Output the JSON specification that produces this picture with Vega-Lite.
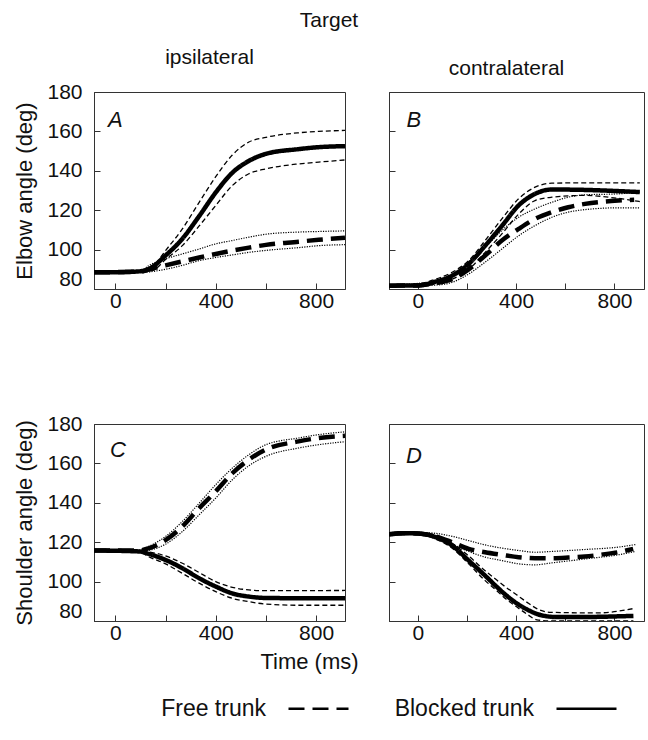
{
  "$schema": "https://vega.github.io/schema/vega-lite/v6.json",
  "padding": {"left": 13, "top": 9, "right": 2, "bottom": 5},
  "background": "white",
  "title": {"text": "Target", "fontSize": 21, "fontWeight": "normal", "anchor": "middle", "offset": 16, "color": "#111"},
  "datasets": {
    "curves": [
      {"p":"A","c":"Blocked trunk","b":"mean","t":-85,"v":88.5},{"p":"A","c":"Blocked trunk","b":"mean","t":0,"v":88.5},{"p":"A","c":"Blocked trunk","b":"mean","t":100,"v":89},{"p":"A","c":"Blocked trunk","b":"mean","t":135,"v":90.2},{"p":"A","c":"Blocked trunk","b":"mean","t":200,"v":97},{"p":"A","c":"Blocked trunk","b":"mean","t":267,"v":105.5},{"p":"A","c":"Blocked trunk","b":"mean","t":334,"v":117},{"p":"A","c":"Blocked trunk","b":"mean","t":400,"v":129},{"p":"A","c":"Blocked trunk","b":"mean","t":466,"v":139},{"p":"A","c":"Blocked trunk","b":"mean","t":532,"v":145},{"p":"A","c":"Blocked trunk","b":"mean","t":600,"v":148.6},{"p":"A","c":"Blocked trunk","b":"mean","t":730,"v":151},{"p":"A","c":"Blocked trunk","b":"mean","t":810,"v":152},{"p":"A","c":"Blocked trunk","b":"mean","t":915,"v":152.5},
      {"p":"A","c":"Blocked trunk","b":"upper","t":-85,"v":88.6},{"p":"A","c":"Blocked trunk","b":"upper","t":100,"v":89.2},{"p":"A","c":"Blocked trunk","b":"upper","t":150,"v":91.5},{"p":"A","c":"Blocked trunk","b":"upper","t":200,"v":99.5},{"p":"A","c":"Blocked trunk","b":"upper","t":267,"v":110.5},{"p":"A","c":"Blocked trunk","b":"upper","t":334,"v":124},{"p":"A","c":"Blocked trunk","b":"upper","t":400,"v":137},{"p":"A","c":"Blocked trunk","b":"upper","t":466,"v":148},{"p":"A","c":"Blocked trunk","b":"upper","t":532,"v":154.6},{"p":"A","c":"Blocked trunk","b":"upper","t":600,"v":157},{"p":"A","c":"Blocked trunk","b":"upper","t":730,"v":159.3},{"p":"A","c":"Blocked trunk","b":"upper","t":810,"v":160},{"p":"A","c":"Blocked trunk","b":"upper","t":915,"v":160.5},
      {"p":"A","c":"Blocked trunk","b":"lower","t":-85,"v":88.4},{"p":"A","c":"Blocked trunk","b":"lower","t":100,"v":88.7},{"p":"A","c":"Blocked trunk","b":"lower","t":150,"v":89.5},{"p":"A","c":"Blocked trunk","b":"lower","t":200,"v":95},{"p":"A","c":"Blocked trunk","b":"lower","t":267,"v":102},{"p":"A","c":"Blocked trunk","b":"lower","t":334,"v":112},{"p":"A","c":"Blocked trunk","b":"lower","t":400,"v":122.4},{"p":"A","c":"Blocked trunk","b":"lower","t":466,"v":132.5},{"p":"A","c":"Blocked trunk","b":"lower","t":532,"v":138.5},{"p":"A","c":"Blocked trunk","b":"lower","t":600,"v":141},{"p":"A","c":"Blocked trunk","b":"lower","t":730,"v":143.5},{"p":"A","c":"Blocked trunk","b":"lower","t":810,"v":144.4},{"p":"A","c":"Blocked trunk","b":"lower","t":915,"v":145.5},
      {"p":"A","c":"Free trunk","b":"mean","t":-85,"v":88.5},{"p":"A","c":"Free trunk","b":"mean","t":100,"v":88.8},{"p":"A","c":"Free trunk","b":"mean","t":135,"v":90},{"p":"A","c":"Free trunk","b":"mean","t":200,"v":92},{"p":"A","c":"Free trunk","b":"mean","t":267,"v":94},{"p":"A","c":"Free trunk","b":"mean","t":334,"v":96},{"p":"A","c":"Free trunk","b":"mean","t":400,"v":97.8},{"p":"A","c":"Free trunk","b":"mean","t":466,"v":99.5},{"p":"A","c":"Free trunk","b":"mean","t":532,"v":101},{"p":"A","c":"Free trunk","b":"mean","t":600,"v":102.4},{"p":"A","c":"Free trunk","b":"mean","t":730,"v":104},{"p":"A","c":"Free trunk","b":"mean","t":810,"v":105},{"p":"A","c":"Free trunk","b":"mean","t":915,"v":106},
      {"p":"A","c":"Free trunk","b":"upper","t":-85,"v":88.6},{"p":"A","c":"Free trunk","b":"upper","t":100,"v":89.3},{"p":"A","c":"Free trunk","b":"upper","t":135,"v":92},{"p":"A","c":"Free trunk","b":"upper","t":200,"v":95.3},{"p":"A","c":"Free trunk","b":"upper","t":267,"v":97.8},{"p":"A","c":"Free trunk","b":"upper","t":334,"v":100.3},{"p":"A","c":"Free trunk","b":"upper","t":400,"v":102.9},{"p":"A","c":"Free trunk","b":"upper","t":466,"v":104.6},{"p":"A","c":"Free trunk","b":"upper","t":532,"v":106.3},{"p":"A","c":"Free trunk","b":"upper","t":600,"v":107.8},{"p":"A","c":"Free trunk","b":"upper","t":730,"v":108.9},{"p":"A","c":"Free trunk","b":"upper","t":810,"v":109.2},{"p":"A","c":"Free trunk","b":"upper","t":915,"v":109.5},
      {"p":"A","c":"Free trunk","b":"lower","t":-85,"v":88.3},{"p":"A","c":"Free trunk","b":"lower","t":110,"v":88.5},{"p":"A","c":"Free trunk","b":"lower","t":200,"v":90},{"p":"A","c":"Free trunk","b":"lower","t":267,"v":92},{"p":"A","c":"Free trunk","b":"lower","t":334,"v":94.4},{"p":"A","c":"Free trunk","b":"lower","t":400,"v":96},{"p":"A","c":"Free trunk","b":"lower","t":466,"v":97.3},{"p":"A","c":"Free trunk","b":"lower","t":532,"v":98.6},{"p":"A","c":"Free trunk","b":"lower","t":600,"v":99.6},{"p":"A","c":"Free trunk","b":"lower","t":730,"v":101},{"p":"A","c":"Free trunk","b":"lower","t":810,"v":102},{"p":"A","c":"Free trunk","b":"lower","t":915,"v":102.5},

      {"p":"B","c":"Blocked trunk","b":"mean","t":-117,"v":81.7},{"p":"B","c":"Blocked trunk","b":"mean","t":0,"v":81.8},{"p":"B","c":"Blocked trunk","b":"mean","t":72,"v":83.7},{"p":"B","c":"Blocked trunk","b":"mean","t":140,"v":86.8},{"p":"B","c":"Blocked trunk","b":"mean","t":207,"v":92.7},{"p":"B","c":"Blocked trunk","b":"mean","t":274,"v":102},{"p":"B","c":"Blocked trunk","b":"mean","t":342,"v":112},{"p":"B","c":"Blocked trunk","b":"mean","t":410,"v":122.4},{"p":"B","c":"Blocked trunk","b":"mean","t":477,"v":128.3},{"p":"B","c":"Blocked trunk","b":"mean","t":545,"v":130.5},{"p":"B","c":"Blocked trunk","b":"mean","t":680,"v":130.3},{"p":"B","c":"Blocked trunk","b":"mean","t":815,"v":129.7},{"p":"B","c":"Blocked trunk","b":"mean","t":903,"v":129.2},
      {"p":"B","c":"Blocked trunk","b":"upper","t":-117,"v":82},{"p":"B","c":"Blocked trunk","b":"upper","t":0,"v":82.5},{"p":"B","c":"Blocked trunk","b":"upper","t":72,"v":85},{"p":"B","c":"Blocked trunk","b":"upper","t":140,"v":88.5},{"p":"B","c":"Blocked trunk","b":"upper","t":207,"v":94.4},{"p":"B","c":"Blocked trunk","b":"upper","t":274,"v":104.6},{"p":"B","c":"Blocked trunk","b":"upper","t":342,"v":115.6},{"p":"B","c":"Blocked trunk","b":"upper","t":410,"v":125.8},{"p":"B","c":"Blocked trunk","b":"upper","t":477,"v":131.7},{"p":"B","c":"Blocked trunk","b":"upper","t":545,"v":133.7},{"p":"B","c":"Blocked trunk","b":"upper","t":680,"v":133.9},{"p":"B","c":"Blocked trunk","b":"upper","t":903,"v":133.9},
      {"p":"B","c":"Blocked trunk","b":"lower","t":-117,"v":81.5},{"p":"B","c":"Blocked trunk","b":"lower","t":0,"v":81.5},{"p":"B","c":"Blocked trunk","b":"lower","t":72,"v":82.5},{"p":"B","c":"Blocked trunk","b":"lower","t":140,"v":85},{"p":"B","c":"Blocked trunk","b":"lower","t":207,"v":90},{"p":"B","c":"Blocked trunk","b":"lower","t":274,"v":98.6},{"p":"B","c":"Blocked trunk","b":"lower","t":342,"v":108},{"p":"B","c":"Blocked trunk","b":"lower","t":410,"v":118},{"p":"B","c":"Blocked trunk","b":"lower","t":477,"v":124.9},{"p":"B","c":"Blocked trunk","b":"lower","t":545,"v":126.6},{"p":"B","c":"Blocked trunk","b":"lower","t":680,"v":127.5},{"p":"B","c":"Blocked trunk","b":"lower","t":815,"v":126},{"p":"B","c":"Blocked trunk","b":"lower","t":903,"v":124.4},
      {"p":"B","c":"Free trunk","b":"mean","t":-117,"v":81.7},{"p":"B","c":"Free trunk","b":"mean","t":0,"v":81.8},{"p":"B","c":"Free trunk","b":"mean","t":72,"v":83},{"p":"B","c":"Free trunk","b":"mean","t":140,"v":85},{"p":"B","c":"Free trunk","b":"mean","t":207,"v":90},{"p":"B","c":"Free trunk","b":"mean","t":274,"v":97},{"p":"B","c":"Free trunk","b":"mean","t":342,"v":104.6},{"p":"B","c":"Free trunk","b":"mean","t":410,"v":110.5},{"p":"B","c":"Free trunk","b":"mean","t":477,"v":115.6},{"p":"B","c":"Free trunk","b":"mean","t":545,"v":119},{"p":"B","c":"Free trunk","b":"mean","t":612,"v":121.5},{"p":"B","c":"Free trunk","b":"mean","t":680,"v":123.2},{"p":"B","c":"Free trunk","b":"mean","t":815,"v":124.9},{"p":"B","c":"Free trunk","b":"mean","t":880,"v":125.3},
      {"p":"B","c":"Free trunk","b":"upper","t":-117,"v":82},{"p":"B","c":"Free trunk","b":"upper","t":72,"v":84},{"p":"B","c":"Free trunk","b":"upper","t":140,"v":86.8},{"p":"B","c":"Free trunk","b":"upper","t":207,"v":92.7},{"p":"B","c":"Free trunk","b":"upper","t":274,"v":101},{"p":"B","c":"Free trunk","b":"upper","t":342,"v":109.7},{"p":"B","c":"Free trunk","b":"upper","t":410,"v":116.4},{"p":"B","c":"Free trunk","b":"upper","t":477,"v":120.7},{"p":"B","c":"Free trunk","b":"upper","t":545,"v":124},{"p":"B","c":"Free trunk","b":"upper","t":612,"v":126.6},{"p":"B","c":"Free trunk","b":"upper","t":680,"v":127.8},{"p":"B","c":"Free trunk","b":"upper","t":815,"v":128.3},{"p":"B","c":"Free trunk","b":"upper","t":903,"v":129.2},
      {"p":"B","c":"Free trunk","b":"lower","t":-117,"v":81.5},{"p":"B","c":"Free trunk","b":"lower","t":72,"v":82},{"p":"B","c":"Free trunk","b":"lower","t":140,"v":83.4},{"p":"B","c":"Free trunk","b":"lower","t":207,"v":87.6},{"p":"B","c":"Free trunk","b":"lower","t":274,"v":93.6},{"p":"B","c":"Free trunk","b":"lower","t":342,"v":100.3},{"p":"B","c":"Free trunk","b":"lower","t":410,"v":107},{"p":"B","c":"Free trunk","b":"lower","t":477,"v":112.2},{"p":"B","c":"Free trunk","b":"lower","t":545,"v":116.4},{"p":"B","c":"Free trunk","b":"lower","t":612,"v":119},{"p":"B","c":"Free trunk","b":"lower","t":680,"v":120.3},{"p":"B","c":"Free trunk","b":"lower","t":815,"v":121.2},{"p":"B","c":"Free trunk","b":"lower","t":903,"v":121.2},

      {"p":"C","c":"Free trunk","b":"mean","t":-85,"v":115.8},{"p":"C","c":"Free trunk","b":"mean","t":95,"v":115.8},{"p":"C","c":"Free trunk","b":"mean","t":135,"v":117},{"p":"C","c":"Free trunk","b":"mean","t":200,"v":121},{"p":"C","c":"Free trunk","b":"mean","t":267,"v":128},{"p":"C","c":"Free trunk","b":"mean","t":334,"v":137.3},{"p":"C","c":"Free trunk","b":"mean","t":400,"v":145.8},{"p":"C","c":"Free trunk","b":"mean","t":466,"v":155},{"p":"C","c":"Free trunk","b":"mean","t":532,"v":161.9},{"p":"C","c":"Free trunk","b":"mean","t":600,"v":167},{"p":"C","c":"Free trunk","b":"mean","t":730,"v":171.2},{"p":"C","c":"Free trunk","b":"mean","t":810,"v":172.9},{"p":"C","c":"Free trunk","b":"mean","t":915,"v":174},
      {"p":"C","c":"Free trunk","b":"upper","t":-85,"v":115.9},{"p":"C","c":"Free trunk","b":"upper","t":95,"v":116},{"p":"C","c":"Free trunk","b":"upper","t":135,"v":118},{"p":"C","c":"Free trunk","b":"upper","t":200,"v":122.9},{"p":"C","c":"Free trunk","b":"upper","t":267,"v":130.5},{"p":"C","c":"Free trunk","b":"upper","t":334,"v":139.8},{"p":"C","c":"Free trunk","b":"upper","t":400,"v":149.2},{"p":"C","c":"Free trunk","b":"upper","t":466,"v":157.6},{"p":"C","c":"Free trunk","b":"upper","t":532,"v":164.4},{"p":"C","c":"Free trunk","b":"upper","t":600,"v":169.5},{"p":"C","c":"Free trunk","b":"upper","t":730,"v":172.9},{"p":"C","c":"Free trunk","b":"upper","t":810,"v":174.6},{"p":"C","c":"Free trunk","b":"upper","t":915,"v":176},
      {"p":"C","c":"Free trunk","b":"lower","t":-85,"v":115.7},{"p":"C","c":"Free trunk","b":"lower","t":95,"v":115.6},{"p":"C","c":"Free trunk","b":"lower","t":135,"v":116},{"p":"C","c":"Free trunk","b":"lower","t":200,"v":119},{"p":"C","c":"Free trunk","b":"lower","t":267,"v":125.4},{"p":"C","c":"Free trunk","b":"lower","t":334,"v":133.9},{"p":"C","c":"Free trunk","b":"lower","t":400,"v":142.4},{"p":"C","c":"Free trunk","b":"lower","t":466,"v":151.7},{"p":"C","c":"Free trunk","b":"lower","t":532,"v":158.8},{"p":"C","c":"Free trunk","b":"lower","t":600,"v":163.6},{"p":"C","c":"Free trunk","b":"lower","t":730,"v":167.8},{"p":"C","c":"Free trunk","b":"lower","t":810,"v":169.5},{"p":"C","c":"Free trunk","b":"lower","t":915,"v":171},
      {"p":"C","c":"Blocked trunk","b":"mean","t":-85,"v":115.8},{"p":"C","c":"Blocked trunk","b":"mean","t":95,"v":115.3},{"p":"C","c":"Blocked trunk","b":"mean","t":135,"v":114},{"p":"C","c":"Blocked trunk","b":"mean","t":200,"v":111},{"p":"C","c":"Blocked trunk","b":"mean","t":267,"v":106.8},{"p":"C","c":"Blocked trunk","b":"mean","t":334,"v":101.7},{"p":"C","c":"Blocked trunk","b":"mean","t":400,"v":97.5},{"p":"C","c":"Blocked trunk","b":"mean","t":466,"v":94},{"p":"C","c":"Blocked trunk","b":"mean","t":532,"v":92.4},{"p":"C","c":"Blocked trunk","b":"mean","t":600,"v":91.7},{"p":"C","c":"Blocked trunk","b":"mean","t":810,"v":91.5},{"p":"C","c":"Blocked trunk","b":"mean","t":915,"v":91.5},
      {"p":"C","c":"Blocked trunk","b":"upper","t":-85,"v":115.9},{"p":"C","c":"Blocked trunk","b":"upper","t":95,"v":115.5},{"p":"C","c":"Blocked trunk","b":"upper","t":135,"v":115},{"p":"C","c":"Blocked trunk","b":"upper","t":200,"v":113},{"p":"C","c":"Blocked trunk","b":"upper","t":267,"v":109.3},{"p":"C","c":"Blocked trunk","b":"upper","t":334,"v":104.6},{"p":"C","c":"Blocked trunk","b":"upper","t":400,"v":100},{"p":"C","c":"Blocked trunk","b":"upper","t":466,"v":97.1},{"p":"C","c":"Blocked trunk","b":"upper","t":532,"v":95.8},{"p":"C","c":"Blocked trunk","b":"upper","t":600,"v":95.4},{"p":"C","c":"Blocked trunk","b":"upper","t":915,"v":95.5},
      {"p":"C","c":"Blocked trunk","b":"lower","t":-85,"v":115.7},{"p":"C","c":"Blocked trunk","b":"lower","t":95,"v":115},{"p":"C","c":"Blocked trunk","b":"lower","t":135,"v":112.5},{"p":"C","c":"Blocked trunk","b":"lower","t":200,"v":109},{"p":"C","c":"Blocked trunk","b":"lower","t":267,"v":104.2},{"p":"C","c":"Blocked trunk","b":"lower","t":334,"v":99.2},{"p":"C","c":"Blocked trunk","b":"lower","t":400,"v":94.9},{"p":"C","c":"Blocked trunk","b":"lower","t":466,"v":91.5},{"p":"C","c":"Blocked trunk","b":"lower","t":532,"v":89.8},{"p":"C","c":"Blocked trunk","b":"lower","t":600,"v":88.6},{"p":"C","c":"Blocked trunk","b":"lower","t":730,"v":88},{"p":"C","c":"Blocked trunk","b":"lower","t":915,"v":88},

      {"p":"D","c":"Free trunk","b":"mean","t":-117,"v":124},{"p":"D","c":"Free trunk","b":"mean","t":-60,"v":124.6},{"p":"D","c":"Free trunk","b":"mean","t":0,"v":124.4},{"p":"D","c":"Free trunk","b":"mean","t":72,"v":123},{"p":"D","c":"Free trunk","b":"mean","t":140,"v":120},{"p":"D","c":"Free trunk","b":"mean","t":207,"v":116.6},{"p":"D","c":"Free trunk","b":"mean","t":274,"v":114.9},{"p":"D","c":"Free trunk","b":"mean","t":342,"v":113.6},{"p":"D","c":"Free trunk","b":"mean","t":410,"v":112.4},{"p":"D","c":"Free trunk","b":"mean","t":477,"v":111.9},{"p":"D","c":"Free trunk","b":"mean","t":545,"v":111.9},{"p":"D","c":"Free trunk","b":"mean","t":612,"v":112.2},{"p":"D","c":"Free trunk","b":"mean","t":680,"v":112.7},{"p":"D","c":"Free trunk","b":"mean","t":747,"v":113.7},{"p":"D","c":"Free trunk","b":"mean","t":815,"v":114.9},{"p":"D","c":"Free trunk","b":"mean","t":876,"v":116.6},
      {"p":"D","c":"Free trunk","b":"upper","t":-117,"v":124.5},{"p":"D","c":"Free trunk","b":"upper","t":-60,"v":125.2},{"p":"D","c":"Free trunk","b":"upper","t":0,"v":125},{"p":"D","c":"Free trunk","b":"upper","t":72,"v":124.5},{"p":"D","c":"Free trunk","b":"upper","t":140,"v":123},{"p":"D","c":"Free trunk","b":"upper","t":207,"v":120.8},{"p":"D","c":"Free trunk","b":"upper","t":274,"v":118.6},{"p":"D","c":"Free trunk","b":"upper","t":342,"v":117},{"p":"D","c":"Free trunk","b":"upper","t":410,"v":115.8},{"p":"D","c":"Free trunk","b":"upper","t":477,"v":114.9},{"p":"D","c":"Free trunk","b":"upper","t":545,"v":115.3},{"p":"D","c":"Free trunk","b":"upper","t":680,"v":116.3},{"p":"D","c":"Free trunk","b":"upper","t":815,"v":117.5},{"p":"D","c":"Free trunk","b":"upper","t":885,"v":118.8},
      {"p":"D","c":"Free trunk","b":"lower","t":-117,"v":123.5},{"p":"D","c":"Free trunk","b":"lower","t":-60,"v":124.1},{"p":"D","c":"Free trunk","b":"lower","t":0,"v":123.9},{"p":"D","c":"Free trunk","b":"lower","t":72,"v":122.5},{"p":"D","c":"Free trunk","b":"lower","t":140,"v":119},{"p":"D","c":"Free trunk","b":"lower","t":207,"v":115.3},{"p":"D","c":"Free trunk","b":"lower","t":274,"v":112.4},{"p":"D","c":"Free trunk","b":"lower","t":342,"v":110.7},{"p":"D","c":"Free trunk","b":"lower","t":410,"v":109},{"p":"D","c":"Free trunk","b":"lower","t":477,"v":108.5},{"p":"D","c":"Free trunk","b":"lower","t":545,"v":109.5},{"p":"D","c":"Free trunk","b":"lower","t":680,"v":111.5},{"p":"D","c":"Free trunk","b":"lower","t":815,"v":113.6},{"p":"D","c":"Free trunk","b":"lower","t":885,"v":115.3},
      {"p":"D","c":"Blocked trunk","b":"mean","t":-117,"v":124},{"p":"D","c":"Blocked trunk","b":"mean","t":-60,"v":124.6},{"p":"D","c":"Blocked trunk","b":"mean","t":0,"v":124.4},{"p":"D","c":"Blocked trunk","b":"mean","t":72,"v":122.6},{"p":"D","c":"Blocked trunk","b":"mean","t":140,"v":118.3},{"p":"D","c":"Blocked trunk","b":"mean","t":207,"v":110.7},{"p":"D","c":"Blocked trunk","b":"mean","t":274,"v":103},{"p":"D","c":"Blocked trunk","b":"mean","t":320,"v":97.5},{"p":"D","c":"Blocked trunk","b":"mean","t":360,"v":93},{"p":"D","c":"Blocked trunk","b":"mean","t":402,"v":89},{"p":"D","c":"Blocked trunk","b":"mean","t":450,"v":85.5},{"p":"D","c":"Blocked trunk","b":"mean","t":500,"v":83},{"p":"D","c":"Blocked trunk","b":"mean","t":566,"v":82},{"p":"D","c":"Blocked trunk","b":"mean","t":648,"v":82},{"p":"D","c":"Blocked trunk","b":"mean","t":877,"v":82.6},
      {"p":"D","c":"Blocked trunk","b":"upper","t":-117,"v":124.5},{"p":"D","c":"Blocked trunk","b":"upper","t":0,"v":125},{"p":"D","c":"Blocked trunk","b":"upper","t":72,"v":123.6},{"p":"D","c":"Blocked trunk","b":"upper","t":140,"v":119.5},{"p":"D","c":"Blocked trunk","b":"upper","t":207,"v":113},{"p":"D","c":"Blocked trunk","b":"upper","t":274,"v":105.5},{"p":"D","c":"Blocked trunk","b":"upper","t":320,"v":100.9},{"p":"D","c":"Blocked trunk","b":"upper","t":360,"v":97},{"p":"D","c":"Blocked trunk","b":"upper","t":402,"v":93.3},{"p":"D","c":"Blocked trunk","b":"upper","t":450,"v":89},{"p":"D","c":"Blocked trunk","b":"upper","t":484,"v":86.3},{"p":"D","c":"Blocked trunk","b":"upper","t":540,"v":84.4},{"p":"D","c":"Blocked trunk","b":"upper","t":730,"v":84.1},{"p":"D","c":"Blocked trunk","b":"upper","t":877,"v":86.3},
      {"p":"D","c":"Blocked trunk","b":"lower","t":-117,"v":123.5},{"p":"D","c":"Blocked trunk","b":"lower","t":0,"v":124},{"p":"D","c":"Blocked trunk","b":"lower","t":72,"v":121.6},{"p":"D","c":"Blocked trunk","b":"lower","t":140,"v":117},{"p":"D","c":"Blocked trunk","b":"lower","t":207,"v":109},{"p":"D","c":"Blocked trunk","b":"lower","t":274,"v":100.5},{"p":"D","c":"Blocked trunk","b":"lower","t":320,"v":95.5},{"p":"D","c":"Blocked trunk","b":"lower","t":360,"v":91},{"p":"D","c":"Blocked trunk","b":"lower","t":402,"v":87.2},{"p":"D","c":"Blocked trunk","b":"lower","t":450,"v":83},{"p":"D","c":"Blocked trunk","b":"lower","t":484,"v":80.6},{"p":"D","c":"Blocked trunk","b":"lower","t":550,"v":80},{"p":"D","c":"Blocked trunk","b":"lower","t":877,"v":80}
    ],
    "letters": [
      {"p": "A", "label": "A"}, {"p": "B", "label": "B"}, {"p": "C", "label": "C"}, {"p": "D", "label": "D"}
    ]
  },
  "spacing": 100,
  "vconcat": [
    {
      "spacing": 42,
      "hconcat": [
        {
          "width": 251, "height": 197,
          "title": {"text": "ipsilateral", "fontSize": 21, "offset": 13, "frame": "group", "dx": -10},
          "layer": [
            {"data": {"name": "curves"}, "transform": [{"filter": "datum.p === 'A' && datum.c === 'Blocked trunk' && datum.b !== 'mean'"}], "mark": {"type": "line", "interpolate": "monotone", "color": "black", "strokeWidth": 1.3, "strokeDash": [5, 3], "clip": true},
             "encoding": {
               "x": {"field": "t", "type": "quantitative", "scale": {"domain": [-85, 915], "nice": false, "zero": false}, "axis": {"title": null, "values": [0, 200, 400, 600, 800], "labelExpr": "datum.value % 400 === 0 ? datum.label : ''"}},
               "y": {"field": "v", "type": "quantitative", "scale": {"domain": [80, 180], "nice": false, "zero": false}, "axis": {"title": "Elbow angle (deg)", "values": [80, 100, 120, 140, 160, 180], "labelBaseline": {"condition": {"test": "datum.value === 80", "value": "bottom"}, "value": "middle"}}},
               "detail": {"field": "b"}}},
            {"data": {"name": "curves"}, "transform": [{"filter": "datum.p === 'A' && datum.c === 'Free trunk' && datum.b !== 'mean'"}], "mark": {"type": "line", "interpolate": "monotone", "color": "black", "strokeWidth": 1.2, "strokeDash": [1.2, 1.3], "clip": true},
             "encoding": {
               "x": {"field": "t", "type": "quantitative", "scale": {"domain": [-85, 915], "nice": false, "zero": false}, "axis": {"title": null, "values": [0, 200, 400, 600, 800], "labelExpr": "datum.value % 400 === 0 ? datum.label : ''"}},
               "y": {"field": "v", "type": "quantitative", "scale": {"domain": [80, 180], "nice": false, "zero": false}, "axis": {"title": "Elbow angle (deg)", "values": [80, 100, 120, 140, 160, 180], "labelBaseline": {"condition": {"test": "datum.value === 80", "value": "bottom"}, "value": "middle"}}},
               "detail": {"field": "b"}}},
            {"data": {"name": "curves"}, "transform": [{"filter": "datum.p === 'A' && datum.b === 'mean'"}], "mark": {"type": "line", "interpolate": "monotone", "color": "black", "strokeWidth": 4.5, "clip": true},
             "encoding": {
               "x": {"field": "t", "type": "quantitative", "scale": {"domain": [-85, 915], "nice": false, "zero": false}, "axis": {"title": null, "values": [0, 200, 400, 600, 800], "labelExpr": "datum.value % 400 === 0 ? datum.label : ''"}},
               "y": {"field": "v", "type": "quantitative", "scale": {"domain": [80, 180], "nice": false, "zero": false}, "axis": {"title": "Elbow angle (deg)", "values": [80, 100, 120, 140, 160, 180], "labelBaseline": {"condition": {"test": "datum.value === 80", "value": "bottom"}, "value": "middle"}}},
               "strokeDash": {"field": "c", "type": "nominal", "scale": {"domain": ["Free trunk", "Blocked trunk"], "range": [[16, 8], [1, 0]]}, "legend": {"title": null, "orient": "none", "legendX": 193, "legendY": 585, "direction": "horizontal", "symbolType": "stroke", "symbolSize": 3600, "symbolStrokeWidth": 2.5, "symbolStrokeColor": "black", "labelFontSize": 23, "labelAlign": "right", "labelOffset": -84, "columnPadding": 40}}}},
            {"data": {"name": "letters"}, "transform": [{"filter": "datum.p === 'A'"}], "mark": {"type": "text", "fontSize": 22, "fontStyle": "italic", "align": "center", "baseline": "middle", "color": "#111"},
             "encoding": {
               "x": {"datum": 0, "type": "quantitative", "scale": {"domain": [-85, 915], "nice": false, "zero": false}, "axis": {"title": null, "values": [0, 200, 400, 600, 800], "labelExpr": "datum.value % 400 === 0 ? datum.label : ''"}},
               "y": {"datum": 166, "type": "quantitative", "scale": {"domain": [80, 180], "nice": false, "zero": false}, "axis": {"title": "Elbow angle (deg)", "values": [80, 100, 120, 140, 160, 180], "labelBaseline": {"condition": {"test": "datum.value === 80", "value": "bottom"}, "value": "middle"}}},
               "text": {"field": "label", "type": "nominal"}}}
          ]
        },
        {
          "width": 255, "height": 197,
          "title": {"text": "contralateral", "fontSize": 21, "offset": 13, "frame": "group", "dx": -10},
          "layer": [
            {"data": {"name": "curves"}, "transform": [{"filter": "datum.p === 'B' && datum.c === 'Blocked trunk' && datum.b !== 'mean'"}], "mark": {"type": "line", "interpolate": "monotone", "color": "black", "strokeWidth": 1.3, "strokeDash": [5, 3], "clip": true},
             "encoding": {
               "x": {"field": "t", "type": "quantitative", "scale": {"domain": [-117, 920], "nice": false, "zero": false}, "axis": {"title": null, "values": [0, 200, 400, 600, 800], "labelExpr": "datum.value % 400 === 0 ? datum.label : ''"}},
               "y": {"field": "v", "type": "quantitative", "scale": {"domain": [80, 180], "nice": false, "zero": false}, "axis": {"title": null, "labels": false, "values": [80, 100, 120, 140, 160, 180]}},
               "detail": {"field": "b"}}},
            {"data": {"name": "curves"}, "transform": [{"filter": "datum.p === 'B' && datum.c === 'Free trunk' && datum.b !== 'mean'"}], "mark": {"type": "line", "interpolate": "monotone", "color": "black", "strokeWidth": 1.2, "strokeDash": [1.2, 1.3], "clip": true},
             "encoding": {
               "x": {"field": "t", "type": "quantitative", "scale": {"domain": [-117, 920], "nice": false, "zero": false}, "axis": {"title": null, "values": [0, 200, 400, 600, 800], "labelExpr": "datum.value % 400 === 0 ? datum.label : ''"}},
               "y": {"field": "v", "type": "quantitative", "scale": {"domain": [80, 180], "nice": false, "zero": false}, "axis": {"title": null, "labels": false, "values": [80, 100, 120, 140, 160, 180]}},
               "detail": {"field": "b"}}},
            {"data": {"name": "curves"}, "transform": [{"filter": "datum.p === 'B' && datum.b === 'mean'"}], "mark": {"type": "line", "interpolate": "monotone", "color": "black", "strokeWidth": 4.5, "clip": true},
             "encoding": {
               "x": {"field": "t", "type": "quantitative", "scale": {"domain": [-117, 920], "nice": false, "zero": false}, "axis": {"title": null, "values": [0, 200, 400, 600, 800], "labelExpr": "datum.value % 400 === 0 ? datum.label : ''"}},
               "y": {"field": "v", "type": "quantitative", "scale": {"domain": [80, 180], "nice": false, "zero": false}, "axis": {"title": null, "labels": false, "values": [80, 100, 120, 140, 160, 180]}},
               "strokeDash": {"field": "c", "type": "nominal", "scale": {"domain": ["Free trunk", "Blocked trunk"], "range": [[16, 8], [1, 0]]}}}},
            {"data": {"name": "letters"}, "transform": [{"filter": "datum.p === 'B'"}], "mark": {"type": "text", "fontSize": 22, "fontStyle": "italic", "align": "center", "baseline": "middle", "color": "#111"},
             "encoding": {
               "x": {"datum": -16, "type": "quantitative", "scale": {"domain": [-117, 920], "nice": false, "zero": false}, "axis": {"title": null, "values": [0, 200, 400, 600, 800], "labelExpr": "datum.value % 400 === 0 ? datum.label : ''"}},
               "y": {"datum": 166, "type": "quantitative", "scale": {"domain": [80, 180], "nice": false, "zero": false}, "axis": {"title": null, "labels": false, "values": [80, 100, 120, 140, 160, 180]}},
               "text": {"field": "label", "type": "nominal"}}}
          ]
        }
      ]
    },
    {
      "spacing": 29,
      "hconcat": [
        {
          "width": 251, "height": 197,
          "layer": [
            {"data": {"name": "curves"}, "transform": [{"filter": "datum.p === 'C' && datum.c === 'Blocked trunk' && datum.b !== 'mean'"}], "mark": {"type": "line", "interpolate": "monotone", "color": "black", "strokeWidth": 1.3, "strokeDash": [5, 3], "clip": true},
             "encoding": {
               "x": {"field": "t", "type": "quantitative", "scale": {"domain": [-85, 915], "nice": false, "zero": false}, "axis": {"title": "Time (ms)", "titleX": 215, "titlePadding": 8, "values": [0, 200, 400, 600, 800], "labelExpr": "datum.value % 400 === 0 ? datum.label : ''"}},
               "y": {"field": "v", "type": "quantitative", "scale": {"domain": [80, 180], "nice": false, "zero": false}, "axis": {"title": "Shoulder angle (deg)", "values": [80, 100, 120, 140, 160, 180], "labelBaseline": {"condition": {"test": "datum.value === 80", "value": "bottom"}, "value": "middle"}}},
               "detail": {"field": "b"}}},
            {"data": {"name": "curves"}, "transform": [{"filter": "datum.p === 'C' && datum.c === 'Free trunk' && datum.b !== 'mean'"}], "mark": {"type": "line", "interpolate": "monotone", "color": "black", "strokeWidth": 1.2, "strokeDash": [1.2, 1.3], "clip": true},
             "encoding": {
               "x": {"field": "t", "type": "quantitative", "scale": {"domain": [-85, 915], "nice": false, "zero": false}, "axis": {"title": "Time (ms)", "titleX": 215, "titlePadding": 8, "values": [0, 200, 400, 600, 800], "labelExpr": "datum.value % 400 === 0 ? datum.label : ''"}},
               "y": {"field": "v", "type": "quantitative", "scale": {"domain": [80, 180], "nice": false, "zero": false}, "axis": {"title": "Shoulder angle (deg)", "values": [80, 100, 120, 140, 160, 180], "labelBaseline": {"condition": {"test": "datum.value === 80", "value": "bottom"}, "value": "middle"}}},
               "detail": {"field": "b"}}},
            {"data": {"name": "curves"}, "transform": [{"filter": "datum.p === 'C' && datum.b === 'mean'"}], "mark": {"type": "line", "interpolate": "monotone", "color": "black", "strokeWidth": 4.5, "clip": true},
             "encoding": {
               "x": {"field": "t", "type": "quantitative", "scale": {"domain": [-85, 915], "nice": false, "zero": false}, "axis": {"title": "Time (ms)", "titleX": 215, "titlePadding": 8, "values": [0, 200, 400, 600, 800], "labelExpr": "datum.value % 400 === 0 ? datum.label : ''"}},
               "y": {"field": "v", "type": "quantitative", "scale": {"domain": [80, 180], "nice": false, "zero": false}, "axis": {"title": "Shoulder angle (deg)", "values": [80, 100, 120, 140, 160, 180], "labelBaseline": {"condition": {"test": "datum.value === 80", "value": "bottom"}, "value": "middle"}}},
               "strokeDash": {"field": "c", "type": "nominal", "scale": {"domain": ["Free trunk", "Blocked trunk"], "range": [[16, 8], [1, 0]]}}}},
            {"data": {"name": "letters"}, "transform": [{"filter": "datum.p === 'C'"}], "mark": {"type": "text", "fontSize": 22, "fontStyle": "italic", "align": "center", "baseline": "middle", "color": "#111"},
             "encoding": {
               "x": {"datum": 10, "type": "quantitative", "scale": {"domain": [-85, 915], "nice": false, "zero": false}, "axis": {"title": "Time (ms)", "titleX": 215, "titlePadding": 8, "values": [0, 200, 400, 600, 800], "labelExpr": "datum.value % 400 === 0 ? datum.label : ''"}},
               "y": {"datum": 167, "type": "quantitative", "scale": {"domain": [80, 180], "nice": false, "zero": false}, "axis": {"title": "Shoulder angle (deg)", "values": [80, 100, 120, 140, 160, 180], "labelBaseline": {"condition": {"test": "datum.value === 80", "value": "bottom"}, "value": "middle"}}},
               "text": {"field": "label", "type": "nominal"}}}
          ]
        },
        {
          "width": 255, "height": 197,
          "layer": [
            {"data": {"name": "curves"}, "transform": [{"filter": "datum.p === 'D' && datum.c === 'Blocked trunk' && datum.b !== 'mean'"}], "mark": {"type": "line", "interpolate": "monotone", "color": "black", "strokeWidth": 1.3, "strokeDash": [5, 3], "clip": true},
             "encoding": {
               "x": {"field": "t", "type": "quantitative", "scale": {"domain": [-117, 920], "nice": false, "zero": false}, "axis": {"title": null, "values": [0, 200, 400, 600, 800], "labelExpr": "datum.value % 400 === 0 ? datum.label : ''"}},
               "y": {"field": "v", "type": "quantitative", "scale": {"domain": [80, 180], "nice": false, "zero": false}, "axis": {"title": null, "labels": false, "values": [80, 100, 120, 140, 160, 180]}},
               "detail": {"field": "b"}}},
            {"data": {"name": "curves"}, "transform": [{"filter": "datum.p === 'D' && datum.c === 'Free trunk' && datum.b !== 'mean'"}], "mark": {"type": "line", "interpolate": "monotone", "color": "black", "strokeWidth": 1.2, "strokeDash": [1.2, 1.3], "clip": true},
             "encoding": {
               "x": {"field": "t", "type": "quantitative", "scale": {"domain": [-117, 920], "nice": false, "zero": false}, "axis": {"title": null, "values": [0, 200, 400, 600, 800], "labelExpr": "datum.value % 400 === 0 ? datum.label : ''"}},
               "y": {"field": "v", "type": "quantitative", "scale": {"domain": [80, 180], "nice": false, "zero": false}, "axis": {"title": null, "labels": false, "values": [80, 100, 120, 140, 160, 180]}},
               "detail": {"field": "b"}}},
            {"data": {"name": "curves"}, "transform": [{"filter": "datum.p === 'D' && datum.b === 'mean'"}], "mark": {"type": "line", "interpolate": "monotone", "color": "black", "strokeWidth": 4.5, "clip": true},
             "encoding": {
               "x": {"field": "t", "type": "quantitative", "scale": {"domain": [-117, 920], "nice": false, "zero": false}, "axis": {"title": null, "values": [0, 200, 400, 600, 800], "labelExpr": "datum.value % 400 === 0 ? datum.label : ''"}},
               "y": {"field": "v", "type": "quantitative", "scale": {"domain": [80, 180], "nice": false, "zero": false}, "axis": {"title": null, "labels": false, "values": [80, 100, 120, 140, 160, 180]}},
               "strokeDash": {"field": "c", "type": "nominal", "scale": {"domain": ["Free trunk", "Blocked trunk"], "range": [[16, 8], [1, 0]]}}}},
            {"data": {"name": "letters"}, "transform": [{"filter": "datum.p === 'D'"}], "mark": {"type": "text", "fontSize": 22, "fontStyle": "italic", "align": "center", "baseline": "middle", "color": "#111"},
             "encoding": {
               "x": {"datum": -16, "type": "quantitative", "scale": {"domain": [-117, 920], "nice": false, "zero": false}, "axis": {"title": null, "values": [0, 200, 400, 600, 800], "labelExpr": "datum.value % 400 === 0 ? datum.label : ''"}},
               "y": {"datum": 164, "type": "quantitative", "scale": {"domain": [80, 180], "nice": false, "zero": false}, "axis": {"title": null, "labels": false, "values": [80, 100, 120, 140, 160, 180]}},
               "text": {"field": "label", "type": "nominal"}}}
          ]
        }
      ]
    }
  ],
  "config": {
    "font": "Liberation Sans",
    "view": {"stroke": "#333", "strokeWidth": 1},
    "axis": {"grid": false, "domainColor": "#333", "tickColor": "#333", "labelFontSize": 21, "labelColor": "#111", "titleFontSize": 22, "titleFontWeight": "normal", "titleColor": "#111", "tickSize": -6, "minExtent": 0, "titlePadding": 10, "labelOverlap": false},
    "axisX": {"labelPadding": 7},
    "axisY": {"labelPadding": 18},
    "title": {"fontSize": 21, "fontWeight": "normal", "color": "#111"},
    "legend": {"labelColor": "#111", "labelFont": "Liberation Sans"}
  }
}
